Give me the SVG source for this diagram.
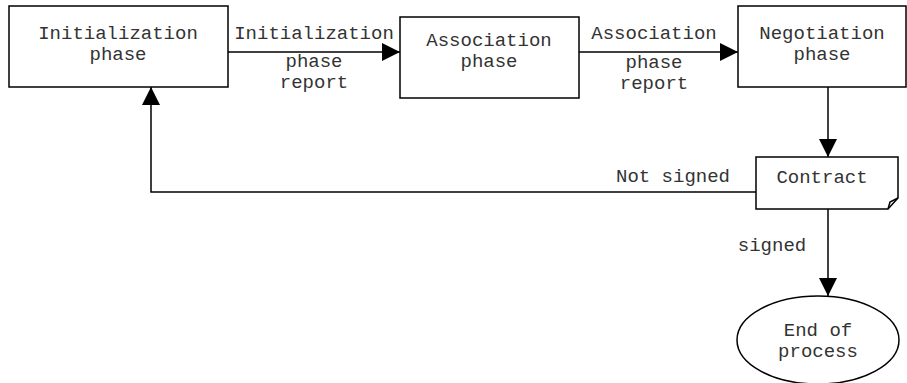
<svg xmlns="http://www.w3.org/2000/svg" width="907" height="383" viewBox="0 0 907 383">
<style>
.n{fill:#fff;stroke:#000;stroke-width:1.5}
.t{font-family:"Liberation Mono","Courier New",monospace;font-size:19px;fill:#333;text-anchor:middle}
.c{fill:none;stroke:#000;stroke-width:1.5}
</style>
<defs>
<marker id="ah" markerWidth="18" markerHeight="18" refX="18" refY="9" orient="auto" markerUnits="userSpaceOnUse">
<path d="M0,0 L18,9 L0,18 Z" fill="#000"/>
</marker>
</defs>
<rect width="907" height="383" fill="#fff"/>
<g id="connectors">
<line class="c" x1="228" y1="52" x2="400" y2="52" marker-end="url(#ah)"/>
<line class="c" x1="579" y1="52" x2="738" y2="52" marker-end="url(#ah)"/>
<line class="c" x1="828" y1="87" x2="828" y2="157" marker-end="url(#ah)"/>
<polyline class="c" points="756,192 151,192 151,87" marker-end="url(#ah)"/>
<line class="c" x1="828" y1="209" x2="828" y2="296" marker-end="url(#ah)"/>
<text class="t" x="314" y="39">Initialization</text>
<text class="t" x="314" y="67">phase</text>
<text class="t" x="314" y="88">report</text>
<text class="t" x="654" y="39">Association</text>
<text class="t" x="654" y="68">phase</text>
<text class="t" x="654" y="89">report</text>
<text class="t" x="673" y="182">Not signed</text>
<text class="t" x="772" y="251">signed</text>
</g>
<g id="init">
<rect class="n" x="9" y="6" width="219" height="81"/>
<text class="t" x="118" y="39">Initialization</text>
<text class="t" x="118" y="60">phase</text>
</g>
<g id="assoc">
<rect class="n" x="400" y="17" width="179" height="81"/>
<text class="t" x="489" y="46">Association</text>
<text class="t" x="489" y="67">phase</text>
</g>
<g id="nego">
<rect class="n" x="738" y="6" width="168" height="81"/>
<text class="t" x="822" y="39">Negotiation</text>
<text class="t" x="822" y="60">phase</text>
</g>
<g id="contract">
<path class="n" d="M756,157 H898 V198 L888,209 H756 Z"/>
<path class="c" d="M888,209 L890,202 L898,198" stroke-width="1"/>
<text class="t" x="822" y="183">Contract</text>
</g>
<g id="end">
<ellipse class="n" cx="818" cy="340" rx="81" ry="44"/>
<text class="t" x="818" y="336">End of</text>
<text class="t" x="818" y="357">process</text>
</g>
</svg>
